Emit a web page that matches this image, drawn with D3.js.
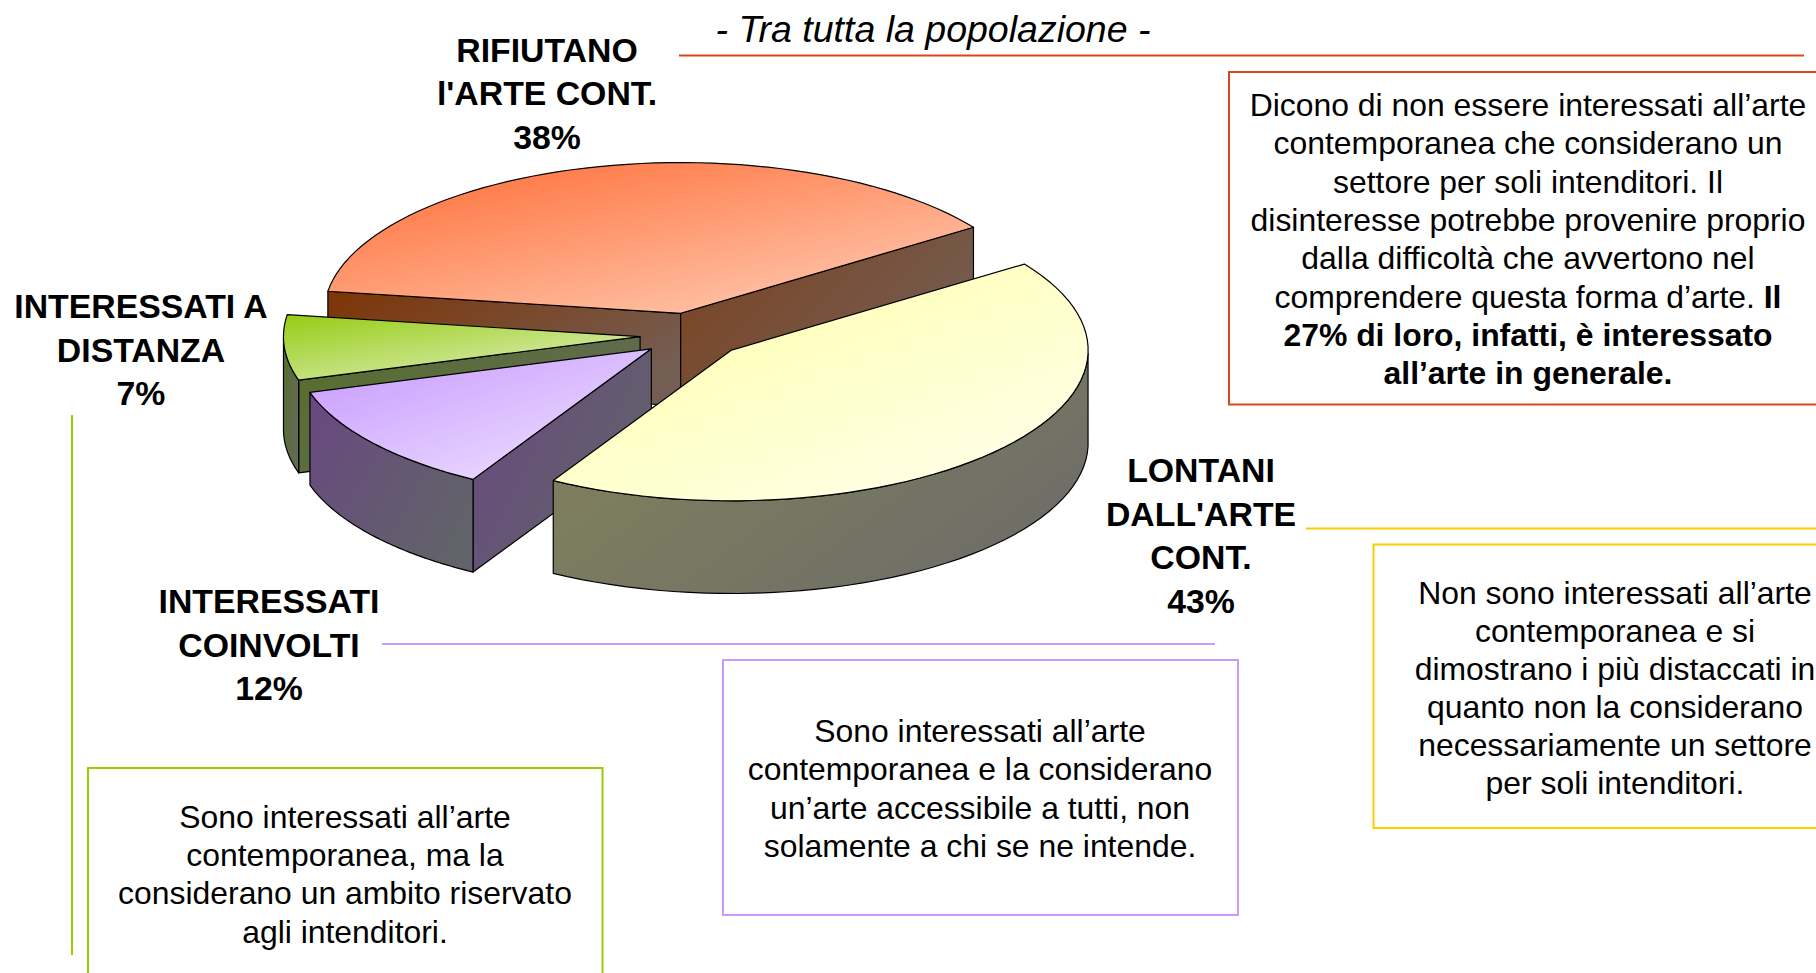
<!DOCTYPE html>
<html>
<head>
<meta charset="utf-8">
<script src="https://cdn.jsdelivr.net/npm/d3@7"></script>
<style>
  body { margin: 0; background: #fff; overflow: hidden; }
  text { font-family: "Liberation Sans", Arial, sans-serif; fill: #000; text-anchor: middle; }
</style>
</head>
<body>
<svg id="chart" width="1816" height="973"></svg>
<script>
// slices, going clockwise from the yellow one
const categories = ["LONTANI DALL'ARTE CONT.", "INTERESSATI COINVOLTI", "INTERESSATI A DISTANZA", "RIFIUTANO l'ARTE CONT."];
const values = [43, 12, 7, 38];

const labelLines = [
  ["LONTANI", "DALL'ARTE", "CONT.", "43%"],
  ["INTERESSATI", "COINVOLTI", "12%"],
  ["INTERESSATI A", "DISTANZA", "7%"],
  ["RIFIUTANO", "l'ARTE CONT.", "38%"]
];

const topColors = [["#ffffa6", "#ffffee"], ["#c696ff", "#f0e4ff"], ["#96cc14", "#e6f2cc"], ["#ff6a32", "#ffd0ba"]];
const wallColors = [["#84845a", "#6e6e68"], ["#684880", "#62626a"], ["#566e2c", "#626a56"], ["#7e3406", "#745e54"]];

const redText = [
  "Dicono di non essere interessati all’arte",
  "contemporanea che considerano un",
  "settore per soli intenditori. Il",
  "disinteresse potrebbe provenire proprio",
  "dalla difficoltà che avvertono nel",
  "comprendere questa forma d’arte. *Il",
  "*27% di loro, infatti, è interessato",
  "*all’arte in generale."
];
const yellowText = [
  "Non sono interessati all’arte",
  "contemporanea e si",
  "dimostrano i più distaccati in",
  "quanto non la considerano",
  "necessariamente un settore",
  "per soli intenditori."
];
const purpleText = [
  "Sono interessati all’arte",
  "contemporanea e la considerano",
  "un’arte accessibile a tutti, non",
  "solamente a chi se ne intende."
];
const greenText = [
  "Sono interessati all’arte",
  "contemporanea, ma la",
  "considerano un ambito riservato",
  "agli intenditori."
];

const svg = d3.select("#chart");
const defs = svg.append("defs");

// pie geometry
const cx = 692.7, cy = 335, rx = 356.6, ry = 150.7, depth = 92.7, explode = 0.148;
const rad = Math.PI / 180;
const x = d3.scaleLinear().domain([-1, 1]).range([cx - rx, cx + rx]);
const y = d3.scaleLinear().domain([-1, 1]).range([cy - ry, cy + ry]);

const pie = d3.pie().sort(null).startAngle(55.2 * rad).endAngle(415.2 * rad);
const arcs = pie(values);

// d3.pie has 0 at 12 o'clock, so sin is x and -cos is y
function px(a, r, off) { return x(off.dx + r * Math.sin(a)); }
function py(a, r, off) { return y(off.dy - r * Math.cos(a)); }

const line = d3.line().x(d => d[0]).y(d => d[1]);

function gradient(id, colors, x2, y2) {
  const g = defs.append("linearGradient").attr("id", id)
    .attr("x1", 0).attr("y1", 0).attr("x2", x2).attr("y2", y2);
  g.append("stop").attr("offset", "0%").attr("stop-color", colors[0]);
  g.append("stop").attr("offset", "100%").attr("stop-color", colors[1]);
  return "url(#" + id + ")";
}

function drawFace(points, fill) {
  svg.append("path")
    .attr("d", line(points) + "Z")
    .attr("fill", fill)
    .attr("stroke", "#000")
    .attr("stroke-width", 1.2)
    .attr("stroke-linejoin", "round");
}

// back to front
[3, 2, 1, 0].forEach(i => {
  const d = arcs[i];
  const mid = (d.startAngle + d.endAngle) / 2;
  const off = { dx: explode * Math.sin(mid), dy: -explode * Math.cos(mid) };
  const apex = [px(0, 0, off), py(0, 0, off)];
  const steps = d3.range(0, 61).map(k => d.startAngle + (d.endAngle - d.startAngle) * k / 60);
  const rim = steps.map(a => [px(a, 1, off), py(a, 1, off)]);
  const down = p => [p[0], p[1] + depth];
  const wallFill = gradient("wall" + i, wallColors[i], 1, 0.6);
  const endWallFill = gradient("wallEnd" + i, [d3.interpolateRgb(wallColors[i][0], wallColors[i][1])(0.3), wallColors[i][1]], 1, 0.6);

  // cut edges, only the ones turned to the viewer
  [[d.startAngle, 1, wallFill], [d.endAngle, -1, endWallFill]].forEach(([a, side, fill]) => {
    if (Math.cos(a - side * Math.PI / 2) >= 0) return;
    const p = [px(a, 1, off), py(a, 1, off)];
    drawFace([apex, p, down(p), down(apex)], fill);
  });

  // outer wall, front half only
  const front = steps.filter(a => Math.cos(a) <= 0).map(a => [px(a, 1, off), py(a, 1, off)]);
  if (front.length > 1) {
    drawFace(front.concat(front.map(down).reverse()), wallFill);
  }

  drawFace([apex].concat(rim), gradient("top" + i, topColors[i], 0.9, 1.05));
});

// pie labels
const labelPos = [[1201, 482], [269, 613], [141, 318], [547, 61.5]];
labelLines.forEach((lines, i) => {
  lines.forEach((t, k) => {
    svg.append("text")
      .attr("x", labelPos[i][0])
      .attr("y", labelPos[i][1] + k * 43.5)
      .attr("font-size", 33.8)
      .attr("font-weight", "bold")
      .text(t);
  });
});

svg.append("text")
  .attr("x", 933).attr("y", 42)
  .attr("font-size", 37.5)
  .attr("font-style", "italic")
  .text("- Tra tutta la popolazione -");

function rule(x1, y1, x2, y2, color) {
  svg.append("line").attr("x1", x1).attr("y1", y1).attr("x2", x2).attr("y2", y2)
    .attr("stroke", color).attr("stroke-width", 2);
}

function box(x1, y1, x2, y2, color) {
  svg.append("rect").attr("x", x1).attr("y", y1).attr("width", x2 - x1).attr("height", y2 - y1)
    .attr("fill", "none").attr("stroke", color).attr("stroke-width", 2);
}

function paragraph(lines, xc, y0, pitch) {
  lines.forEach((t, k) => {
    const el = svg.append("text").attr("x", xc).attr("y", y0 + k * pitch).attr("font-size", 31.9);
    t.split("*").forEach((part, j) => {
      if (part) el.append("tspan").attr("font-weight", j > 0 ? "bold" : "normal").text(part);
    });
  });
}

rule(679, 55.5, 1804, 55.5, "#d9481c");
box(1229, 72, 1830, 404.5, "#d9481c");
paragraph(redText, 1528, 116, 38.3);

rule(1306, 528.5, 1816, 528.5, "#ffcc00");
box(1373.5, 544.5, 1830, 828, "#ffcc00");
paragraph(yellowText, 1615, 604, 38);

rule(382, 644, 1215, 644, "#cc99ff");
box(723, 660, 1238, 915, "#cc99ff");
paragraph(purpleText, 980, 742, 38.4);

rule(72, 415, 72, 955, "#99cc00");
box(88, 768, 602.5, 990, "#99cc00");
paragraph(greenText, 345, 828, 38.2);
</script>
</body>
</html>
